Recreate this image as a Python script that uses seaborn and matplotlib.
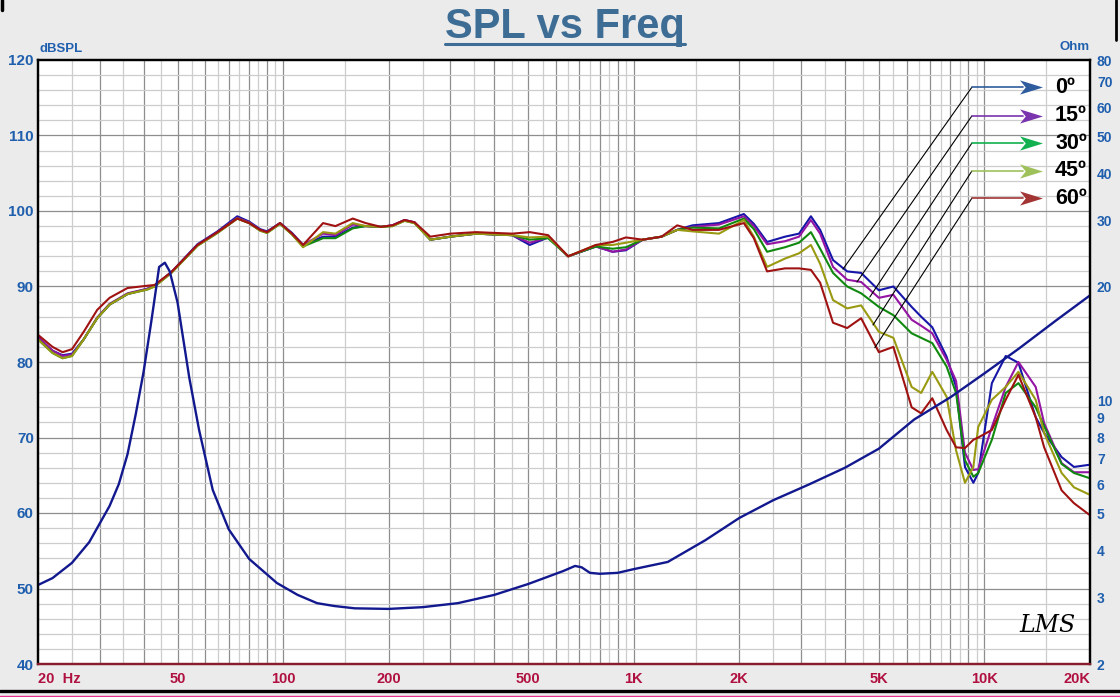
import matplotlib
matplotlib.use("Agg")
from matplotlib import pyplot as plt
from matplotlib.lines import Line2D
from matplotlib.path import Path
from matplotlib.ticker import FixedLocator, NullLocator
import seaborn as sns
import pandas as pd

BG = "#ebebeb"
BLUE_TXT = "#1f5fae"
RED_TXT = "#b01040"

FREQ = [20, 22, 23.5, 25, 27, 29.5, 32, 36, 41, 43, 48, 57, 65, 74, 80, 86, 90, 98, 106, 114,
        130, 141, 158, 172, 190, 205, 222, 237, 263, 300, 355, 450, 505, 570, 650, 780, 870, 950,
        1060, 1200, 1330, 1470, 1750, 2060, 2200, 2400, 2700, 2960, 3200, 3400, 3700, 4060, 4450,
        5000, 5500, 6200, 6600, 7100, 7800, 8300, 8800, 9300, 9600, 10500, 11500, 12500, 14000,
        14800, 16600, 18000, 20000]

SPL_0 = [83.3, 81.5, 80.9, 81.1, 83.0, 85.8, 87.6, 89.0, 89.7, 90.1, 91.9, 95.6, 97.3, 99.3, 98.6,
         97.6, 97.3, 98.4, 97.1, 95.5, 96.6, 96.6, 97.8, 98.0, 97.9, 98.1, 98.8, 98.5, 96.2, 96.6,
         97.0, 96.8, 95.5, 96.5, 94.0, 95.3, 94.6, 94.8, 96.2, 96.6, 97.5, 98.1, 98.4, 99.6, 98.3,
         95.9, 96.6, 97.0, 99.3, 97.5, 93.5, 92.0, 91.8, 89.5, 90.0, 87.3, 86.0, 84.6, 80.7, 76.7,
         66.1, 64.0, 65.3, 77.2, 80.8, 79.9, 72.7, 70.6, 67.4, 66.1, 66.4]
SPL_15 = [83.3, 81.5, 80.8, 81.0, 83.0, 85.9, 87.7, 89.1, 89.7, 90.1, 91.9, 95.5, 97.2, 99.1, 98.5,
          97.5, 97.2, 98.4, 97.0, 95.5, 97.0, 96.8, 98.2, 98.0, 97.9, 98.1, 98.8, 98.5, 96.2, 96.6,
          97.0, 96.8, 95.8, 96.5, 94.0, 95.3, 94.6, 94.9, 96.2, 96.6, 97.5, 97.9, 98.2, 99.3, 98.0,
          95.6, 96.0, 96.6, 98.8, 97.0, 92.6, 90.9, 90.6, 88.5, 88.9, 85.6, 84.8, 83.8, 80.3, 77.5,
          68.0, 65.7, 65.8, 71.4, 76.7, 80.0, 76.7, 71.9, 66.6, 65.4, 65.4]
SPL_30 = [83.0, 81.2, 80.5, 80.8, 83.0, 85.8, 87.6, 89.0, 89.6, 90.0, 91.8, 95.4, 97.1, 99.0, 98.4,
          97.4, 97.1, 98.3, 96.9, 95.3, 96.4, 96.4, 97.7, 98.0, 97.9, 98.0, 98.7, 98.4, 96.2, 96.6,
          97.0, 96.8, 96.2, 96.4, 94.0, 95.3, 95.0, 95.2, 96.2, 96.6, 97.5, 97.8, 97.7, 99.0, 97.6,
          94.6, 95.2, 95.8, 97.2, 95.0, 91.8, 90.0, 89.1, 87.3, 86.2, 83.8, 83.2, 82.5, 79.4, 75.9,
          67.0, 64.8, 65.3, 69.7, 75.9, 77.2, 74.0, 71.5, 66.5, 65.3, 64.6]
SPL_45 = [83.0, 81.2, 80.5, 80.8, 83.0, 85.8, 87.6, 89.0, 89.6, 90.0, 91.8, 95.4, 97.1, 99.0, 98.4,
          97.4, 97.1, 98.3, 96.9, 95.2, 97.2, 97.0, 98.4, 98.0, 97.9, 98.0, 98.7, 98.4, 96.2, 96.6,
          97.0, 96.8, 96.5, 96.6, 94.0, 95.5, 95.5, 95.8, 96.2, 96.6, 97.5, 97.3, 97.0, 98.8, 96.6,
          92.6, 93.7, 94.4, 95.5, 93.0, 88.2, 87.1, 87.5, 84.0, 83.2, 76.7, 75.9, 78.7, 75.4, 68.3,
          64.0, 66.1, 71.4, 75.0, 76.7, 78.7, 75.0, 70.6, 65.3, 63.4, 62.4]
SPL_60 = [83.6, 82.0, 81.3, 81.7, 84.0, 86.9, 88.5, 89.8, 90.1, 90.2, 91.9, 95.5, 97.2, 99.0, 98.4,
          97.5, 97.2, 98.4, 97.0, 95.5, 98.4, 98.0, 99.0, 98.4, 97.9, 98.1, 98.8, 98.5, 96.6, 97.0,
          97.2, 97.0, 97.2, 96.8, 94.0, 95.5, 95.9, 96.5, 96.2, 96.6, 98.1, 97.5, 97.5, 98.4, 96.4,
          92.0, 92.4, 92.4, 92.2, 90.5, 85.2, 84.5, 85.8, 81.3, 82.0, 74.0, 73.2, 75.2, 71.0, 68.7,
          68.6, 69.7, 70.0, 71.0, 75.0, 78.3, 72.7, 68.7, 63.0, 61.3, 59.7]

ANGLES = ["0º", "15º", "30º", "45º", "60º"]
CURVE_COLORS = ["#1616a8", "#9414a4", "#10890f", "#9a9a12", "#a01212"]
ARROW_COLORS = ["#2f5c9c", "#7a34ae", "#12b04e", "#9fc15c", "#a23434"]

IMP_FREQ = [20, 22, 25, 28, 32, 34, 36, 38, 40, 42, 43, 44.3, 46, 47.5, 50, 54, 57.6, 63, 70, 80,
            96, 110, 125, 140, 160, 200, 250, 315, 400, 500, 630, 680, 710, 750, 800, 900, 1000,
            1250, 1600, 2000, 2500, 3150, 4000, 5000, 6300, 8000, 10000, 12500, 16000, 20000]
IMP_OHM = [3.24, 3.38, 3.71, 4.21, 5.25, 6.0, 7.2, 9.2, 11.9, 16.0, 18.6, 22.6, 23.2, 22.0, 18.2,
           11.5, 8.35, 5.79, 4.55, 3.80, 3.28, 3.05, 2.90, 2.85, 2.81, 2.80, 2.83, 2.90, 3.05, 3.26,
           3.53, 3.64, 3.61, 3.49, 3.47, 3.49, 3.57, 3.73, 4.26, 4.88, 5.44, 5.98, 6.63, 7.45, 8.9,
           10.2, 11.8, 13.7, 16.3, 19.0]
IMP_COLOR = "#12188e"

X_TICKS = [20, 50, 100, 200, 500, 1000, 2000, 5000, 10000, 20000]
X_LABELS = ["20  Hz", "50", "100", "200", "500", "1K", "2K", "5K", "10K", "20K"]
DB_TICKS = [40, 50, 60, 70, 80, 90, 100, 110, 120]
OHM_TICKS = [2, 3, 4, 5, 6, 7, 8, 9, 10, 20, 30, 40, 50, 60, 70, 80]

# where each leader line touches its curve, and the height of its label
LEADER_FROM = [(3950, 92.3), (4330, 90.6), (4710, 88.6), (4810, 84.9), (4870, 81.9)]
LABEL_Y = [116.4, 112.6, 109.0, 105.3, 101.7]

# swept-back arrow head, pointing right
STEALTH = Path([(1, 0), (-1, 0.62), (-0.5, 0), (-1, -0.62), (1, 0)],
               [Path.MOVETO, Path.LINETO, Path.LINETO, Path.LINETO, Path.CLOSEPOLY])

sns.set_theme(style="white")
plt.rcParams['font.family'] = ['Liberation Sans', 'DejaVu Sans']

rows = []
for angle, vals in zip(ANGLES, [SPL_0, SPL_15, SPL_30, SPL_45, SPL_60]):
    for f, v in zip(FREQ, vals):
        rows.append({'freq': f, 'spl': v, 'angle': angle})
df = pd.DataFrame(rows)

fig = plt.figure(figsize=(11.2, 6.97), dpi=100, facecolor=BG)
ax = fig.add_axes([38 / 1120, 33 / 697, 1052 / 1120, 604 / 697])
ax.set_facecolor("white")

sns.lineplot(data=df, x='freq', y='spl', hue='angle', hue_order=ANGLES,
             palette=dict(zip(ANGLES, CURVE_COLORS)), estimator=None,
             lw=1.5, legend=False, ax=ax, zorder=3)
ax.set_xscale('log')
ax.set_xlim(20, 20000)
ax.set_ylim(40, 120)

# grid: full steps darker, half steps lighter
for dec in [10, 100, 1000, 10000]:
    for m in range(1, 10):
        for f, c in [(m * dec, "#8e8e8e"), ((m + 0.5) * dec, "#cdcdcd")]:
            if 20 < f < 20000:
                ax.axvline(f, color=c, lw=0.9, zorder=0.5)
for v in range(42, 120, 2):
    ax.axhline(v, color="#8e8e8e" if v % 10 == 0 else "#cdcdcd", lw=0.9, zorder=0.5)

ax.xaxis.set_major_locator(FixedLocator(X_TICKS))
ax.xaxis.set_minor_locator(NullLocator())
ax.set_xticklabels(X_LABELS)
ax.set_yticks(DB_TICKS)
ax.tick_params(axis='x', length=0, pad=6, labelsize=10.5, labelcolor=RED_TXT)
ax.tick_params(axis='y', length=0, pad=3, labelsize=11, labelcolor=BLUE_TXT)
for lab in ax.get_xticklabels() + ax.get_yticklabels():
    lab.set_fontweight('bold')
xl = ax.get_xticklabels()
xl[0].set_horizontalalignment('left')
xl[-1].set_horizontalalignment('right')
ax.set_xlabel('')
ax.set_ylabel('')

ax2 = ax.twinx()
sns.lineplot(x=IMP_FREQ, y=IMP_OHM, color=IMP_COLOR, lw=1.7, ax=ax2)
ax2.set_yscale('log')
ax2.set_ylim(2, 80)
ax2.yaxis.set_major_locator(FixedLocator(OHM_TICKS))
ax2.yaxis.set_minor_locator(NullLocator())
ax2.set_yticklabels([str(t) for t in OHM_TICKS])
ax2.tick_params(axis='y', length=0, pad=5, labelsize=10, labelcolor=BLUE_TXT)
for lab in ax2.get_yticklabels():
    lab.set_fontweight('bold')
ax2.set_ylabel('')

for a in (ax, ax2):
    for side in ['left', 'top', 'right']:
        a.spines[side].set_color('black')
        a.spines[side].set_linewidth(1.6)
    a.spines['bottom'].set_color('#8b1c2c')
    a.spines['bottom'].set_linewidth(1.6)

# legend: leader lines, coloured arrows and angle labels
for i, angle in enumerate(ANGLES):
    f0, y0 = LEADER_FROM[i]
    ax.plot([f0, 9210], [y0, LABEL_Y[i]], color='black', lw=0.8, zorder=4)
    ax.plot([9210, 12900], [LABEL_Y[i], LABEL_Y[i]], color=ARROW_COLORS[i], lw=1.2, zorder=4)
    ax.plot([13600], [LABEL_Y[i]], marker=STEALTH, markersize=16.5, color=ARROW_COLORS[i],
            markeredgewidth=0, zorder=4)
    ax.text(15900, LABEL_Y[i], angle, fontsize=15.5, fontweight='bold',
            color='black', va='center', ha='left', zorder=5)

fig.text(40 / 1120, 1 - 49 / 697, "dBSPL", fontsize=9.5, fontweight='bold',
         color=BLUE_TXT, va='center', ha='left')
fig.text(1090 / 1120, 1 - 47 / 697, "Ohm", fontsize=9.5, fontweight='bold',
         color=BLUE_TXT, va='center', ha='right')
ax.text(0.986, 0.045, "LMS", transform=ax.transAxes, fontsize=17, fontstyle='italic',
        family='DejaVu Serif', color='black', ha='right', va='bottom')

title = fig.text(565 / 1120, 1 - 38 / 697, "SPL vs Freq", fontsize=30, fontweight='bold',
                 color="#3d6d95", ha='center', va='baseline')
fig.canvas.draw()
bb = title.get_window_extent()
fig.add_artist(Line2D([bb.x0 / 1120, bb.x1 / 1120], [1 - 43.5 / 697, 1 - 43.5 / 697],
                      transform=fig.transFigure, color="#3d6d95", lw=2.2))

# frame fragments around the picture
fig.add_artist(Line2D([0, 1], [1 - 691 / 697] * 2, transform=fig.transFigure, color='black', lw=2.4))
fig.add_artist(Line2D([0, 1], [1 - 695.5 / 697] * 2, transform=fig.transFigure, color='#e0308a', lw=1))
fig.add_artist(Line2D([1116 / 1120] * 2, [1, 1 - 40 / 697], transform=fig.transFigure, color='black', lw=2))
fig.add_artist(Line2D([2 / 1120] * 2, [1, 1 - 10 / 697], transform=fig.transFigure, color='black', lw=2.5))

fig.savefig("out.png", dpi=100, facecolor=BG)
